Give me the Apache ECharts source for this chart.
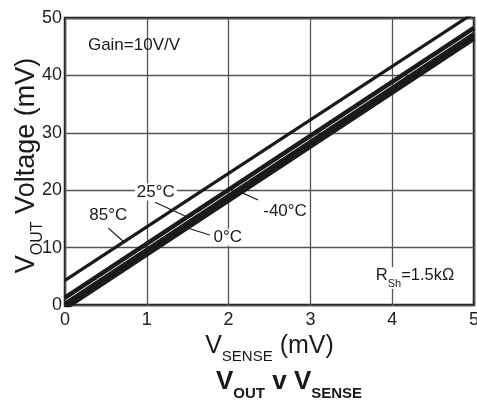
<!DOCTYPE html>
<html><head><meta charset="utf-8">
<script src="https://cdn.jsdelivr.net/npm/echarts@6/dist/echarts.min.js"></script>
<style>html,body{margin:0;padding:0;background:#fff}#c{width:477px;height:403px}</style>
</head><body><div id="c"></div>
<script>
// ---- data ----
const xValues = [0, 5];
const line85 = [4.3, 50.9];
const line25 = [1.3, 48.3];
const line0 = [0.18, 47.2];
const lineM40 = [-0.6, 46.4];
const xTicks = [0, 1, 2, 3, 4, 5];
const yTicks = [0, 10, 20, 30, 40, 50];
const tempLabels = ['85°C', '25°C', '0°C', '-40°C'];
// label anchor [x, y] and leader [from, to] in data units
const labelAt = [[0.53, 15.7], [1.11, 19.7], [1.99, 11.8], [2.69, 16.4]];
const leaders = [
  [[0.53, 13.4], [0.71, 11.1]],
  [[1.10, 17.9], [1.50, 15.3]],
  [[1.77, 12.2], [1.41, 13.8]],
  [[2.36, 18.3], [2.14, 19.7]]
];
const gainText = 'Gain=10V/V';
const gainAt = [0.28, 45.2];
const rshAt = [3.80, 4.7];

const FONT = '"Liberation Sans", Arial, Helvetica, sans-serif';
const INK = '#1a1a1a';
const chart = echarts.init(document.getElementById('c'), null, {renderer: 'canvas'});

function pairs(ys) { return xValues.map((x, i) => [x, ys[i]]); }
function lineSeries(name, ys, w) {
  return {name, type: 'line', data: pairs(ys), symbol: 'none', clip: true,
    lineStyle: {color: INK, width: w}, silent: true, animation: false};
}

chart.setOption({
  animation: false,
  grid: {left: 65, right: 3, top: 18, bottom: 98, show: true, outerBoundsMode: 'none', containLabel: false,
    borderColor: INK, borderWidth: 2.5, backgroundColor: 'transparent'},
  title: {
    left: 211, top: 364,
    text: '{b|V}{bs|OUT}{b| v V}{bs|SENSE}',
    textStyle: {rich: {
      b: {fontFamily: FONT, fontWeight: 'bold', fontSize: 26, color: INK, verticalAlign: 'bottom', padding: [0, 0, 6, 0]},
      bs: {fontFamily: FONT, fontWeight: 'bold', fontSize: 15, color: INK, verticalAlign: 'bottom'}
    }}
  },
  xAxis: {
    type: 'value', min: xTicks[0], max: xTicks[xTicks.length - 1], interval: 1,
    axisLine: {show: false}, axisTick: {show: false},
    splitLine: {show: true, lineStyle: {color: '#555', width: 1.3}},
    axisLabel: {fontFamily: FONT, fontSize: 18, color: '#222', margin: 6},
    name: '{m|V}{s|SENSE}{m| (mV)}', nameLocation: 'middle', nameGap: 22,
    nameTextStyle: {rich: {
      m: {fontFamily: FONT, fontSize: 25, color: INK, verticalAlign: 'bottom', padding: [0, 0, 5, 0]},
      s: {fontFamily: FONT, fontSize: 15, color: INK, verticalAlign: 'bottom'}
    }}
  },
  yAxis: {
    type: 'value', min: yTicks[0], max: yTicks[yTicks.length - 1], interval: 10,
    axisLine: {show: false}, axisTick: {show: false},
    splitLine: {show: true, lineStyle: {color: '#555', width: 1.3}},
    axisLabel: {fontFamily: FONT, fontSize: 18, color: '#222', margin: 3},
    name: '{m|V}{s|OUT}{m| Voltage (mV)}', nameLocation: 'middle', nameRotate: 90, nameGap: 19,
    nameMoveOverlap: false,
    nameTextStyle: {padding: [0, 8, 0, 0], rich: {
      m: {fontFamily: FONT, fontSize: 27, color: INK, verticalAlign: 'bottom', padding: [0, 0, 6, 0]},
      s: {fontFamily: FONT, fontSize: 16, color: INK, verticalAlign: 'bottom'}
    }}
  },
  series: [
    lineSeries('-40°C', lineM40, 4.5),
    lineSeries('0°C', line0, 4.5),
    lineSeries('25°C', line25, 4.5),
    lineSeries('85°C', line85, 3.2)
  ]
});

function px(p) { return chart.convertToPixel({gridIndex: 0}, p); }
const graphics = [];
leaders.forEach(l => {
  const a = px(l[0]), b = px(l[1]);
  graphics.push({type: 'line', shape: {x1: a[0], y1: a[1], x2: b[0], y2: b[1]},
    style: {stroke: INK, lineWidth: 1.2}, z: 100});
});
tempLabels.forEach((t, i) => {
  const p = px(labelAt[i]);
  graphics.push({type: 'text', x: p[0], y: p[1], z: 101,
    style: {text: t, fontFamily: FONT, fontSize: 17, fill: INK, align: 'center', verticalAlign: 'middle',
      backgroundColor: '#fff', padding: [0, 2, 0, 2]}});
});
const g = px(gainAt);
graphics.push({type: 'text', x: g[0], y: g[1], z: 101,
  style: {text: gainText, fontFamily: FONT, fontSize: 17, fill: INK, align: 'left', verticalAlign: 'middle'}});
const r = px(rshAt);
graphics.push({type: 'text', x: r[0], y: r[1], z: 101,
  style: {text: '{m|R}{s|Sh}{m|=1.5kΩ}', align: 'left', verticalAlign: 'middle', backgroundColor: '#fff',
    rich: {
      m: {fontFamily: FONT, fontSize: 16.5, fill: INK, color: INK, verticalAlign: 'bottom', padding: [0, 0, 5, 0]},
      s: {fontFamily: FONT, fontSize: 11, fill: INK, color: INK, verticalAlign: 'bottom'}
    }}});
chart.setOption({graphic: graphics});
</script>
</body></html>
